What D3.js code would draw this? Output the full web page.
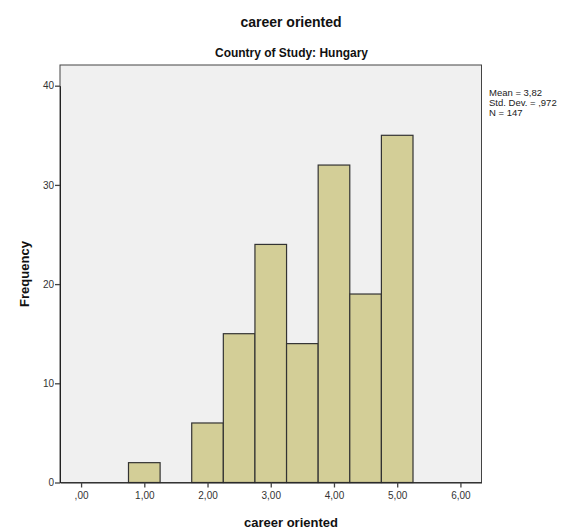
<!DOCTYPE html>
<html><head><meta charset="utf-8">
<script src="https://cdn.jsdelivr.net/npm/d3@7"></script>
<style>body{margin:0;background:#fff}svg{display:block}text{font-family:Arial,"Liberation Sans",sans-serif}</style>
</head><body><svg id="c" width="576" height="530"></svg>
<script>
const binStarts = [0.75, 1.25, 1.75, 2.25, 2.75, 3.25, 3.75, 4.25, 4.75];
const counts    = [2, 0, 6, 15, 24, 14, 32, 19, 35];
const binWidth = 0.5;
const xTicks = [0, 1, 2, 3, 4, 5, 6];
const xTickLabels = [",00", "1,00", "2,00", "3,00", "4,00", "5,00", "6,00"];
const yTicks = [0, 10, 20, 30, 40];
const statLines = ["Mean = 3,82", "Std. Dev. = ,972", "N = 147"];

const svg = d3.select("#c");
const L = 60, R = 481.5, T = 65, B = 482.5;
const x = d3.scaleLinear().domain([-1/3, 6 + 1/3]).range([L, R]);
const y = d3.scaleLinear().domain([0, 40]).range([B, B - 4 * 99.2]);

svg.append("rect").attr("x", L).attr("y", T).attr("width", R - L).attr("height", B - T)
  .attr("fill", "#f0f0f0").attr("stroke", "#444").attr("stroke-width", 1);

svg.append("g").selectAll("rect").data(counts.map((c, i) => ({s: binStarts[i], c})).filter(d => d.c > 0))
  .join("rect")
  .attr("x", d => x(d.s)).attr("width", d => x(d.s + binWidth) - x(d.s))
  .attr("y", d => y(d.c)).attr("height", d => y(0) - y(d.c))
  .attr("fill", "#d3ce97").attr("stroke", "#333").attr("stroke-width", 1.2);

// axes
const yAxis = d3.axisLeft(y).tickValues(yTicks).tickSize(5).tickSizeOuter(0).tickFormat(d3.format("d"));
const yg = svg.append("g").attr("transform", `translate(${L},0)`).call(yAxis);
yg.select(".domain").attr("stroke", "#222");
yg.selectAll(".tick line").attr("stroke", "#444").attr("stroke-width", 1.3);
yg.selectAll(".tick text").attr("fill", "#333").style("font-size", "10px").attr("x", -6);

const xAxis = d3.axisBottom(x).tickValues(xTicks).tickSize(5).tickSizeOuter(0).tickFormat((d, i) => xTickLabels[i]);
const xg = svg.append("g").attr("transform", `translate(0,${B})`).call(xAxis);
xg.select(".domain").attr("stroke", "#222");
xg.selectAll(".tick line").attr("stroke", "#444").attr("stroke-width", 1.3);
xg.selectAll(".tick text").attr("fill", "#333").style("font-size", "10px").attr("y", 9);

// titles
svg.append("text").attr("x", 291).attr("y", 27).attr("text-anchor", "middle")
  .style("font-size", "14px").style("font-weight", "bold").attr("fill", "#111").text("career oriented");
svg.append("text").attr("x", 291.5).attr("y", 57).attr("text-anchor", "middle")
  .style("font-size", "12px").style("font-weight", "bold").attr("fill", "#111")
  .attr("textLength", 153).attr("lengthAdjust", "spacingAndGlyphs").text("Country of Study: Hungary");
svg.append("text").attr("x", 291).attr("y", 527).attr("text-anchor", "middle")
  .style("font-size", "13px").style("font-weight", "bold").attr("fill", "#111").text("career oriented");
svg.append("text").attr("transform", "translate(29,274) rotate(-90)").attr("text-anchor", "middle")
  .style("font-size", "13px").style("font-weight", "bold").attr("fill", "#111").text("Frequency");

svg.append("g").selectAll("text").data(statLines).join("text")
  .attr("x", 489).attr("y", (d, i) => 96 + i * 10)
  .style("font-size", "9.5px").attr("fill", "#222").text(d => d);
</script></body></html>
